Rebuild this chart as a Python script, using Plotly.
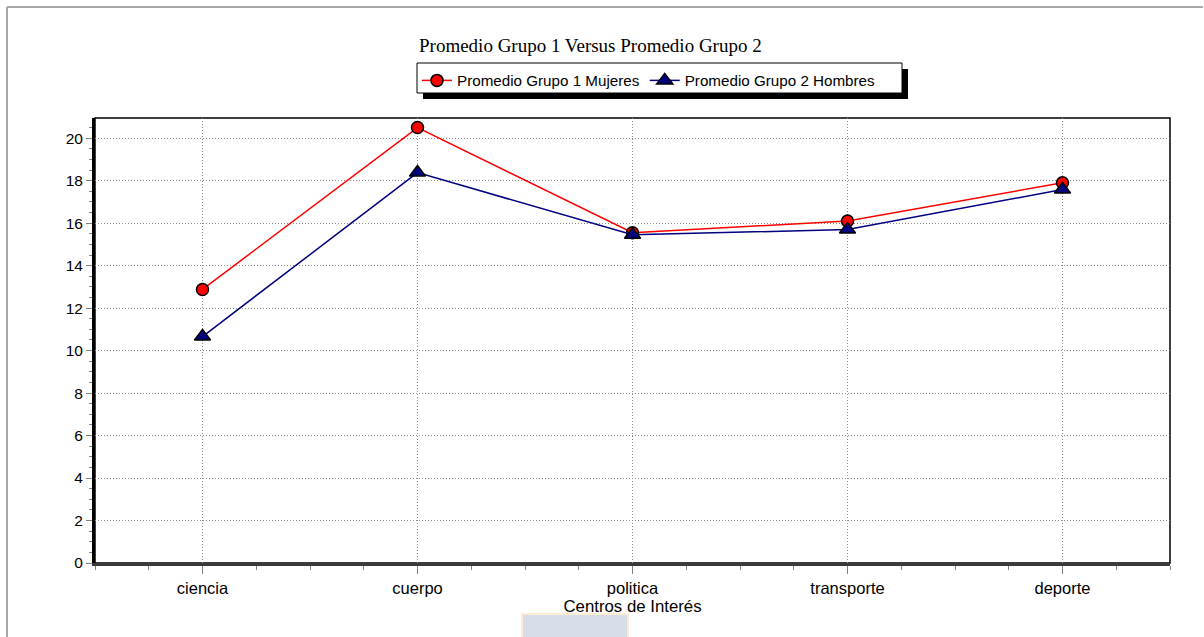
import plotly.graph_objects as go

# Centros de interés y promedios por grupo
categorias = ["ciencia", "cuerpo", "politica", "transporte", "deporte"]
grupo1_mujeres = [12.88, 20.5, 15.55, 16.1, 17.9]
grupo2_hombres = [10.66, 18.38, 15.45, 15.7, 17.58]
y_ticks = [0, 2, 4, 6, 8, 10, 12, 14, 16, 18, 20]

W, H = 1204, 637
ML, MR, MT, MB = 95, 34, 118, 74
PW, PH = W - ML - MR, H - MT - MB


def px_x(px):
    return (px - ML) / PW


def px_y(py):
    return (H - MB - py) / PH


xpos = list(range(len(categorias)))

fig = go.Figure()
fig.add_trace(go.Scatter(
    x=xpos, y=grupo1_mujeres, mode="lines+markers",
    name="Promedio Grupo 1 Mujeres",
    line=dict(color="#ff0000", width=1.5),
    marker=dict(symbol="circle", size=12, color="#ff0000",
                line=dict(color="#000000", width=1.5)),
))
fig.add_trace(go.Scatter(
    x=xpos, y=grupo2_hombres, mode="lines+markers",
    name="Promedio Grupo 2 Hombres",
    line=dict(color="#000080", width=1.5),
    marker=dict(symbol="triangle-up", size=14, color="#000080",
                line=dict(color="#000000", width=1.5)),
))

shapes = [
    # plot frame
    dict(type="rect", xref="paper", yref="paper", x0=0, x1=1, y0=0, y1=1,
         line=dict(color="#000000", width=1.5), layer="below"),
    # legend drop shadow and box
    dict(type="rect", xref="paper", yref="paper",
         x0=px_x(423), x1=px_x(908), y0=px_y(99), y1=px_y(69),
         fillcolor="#000000", line=dict(width=0), layer="above"),
    dict(type="rect", xref="paper", yref="paper",
         x0=px_x(417), x1=px_x(902), y0=px_y(93), y1=px_y(63),
         fillcolor="#ffffff", line=dict(color="#000000", width=1), layer="above"),
    # page frame (left and top edges)
    dict(type="line", xref="paper", yref="paper",
         x0=px_x(7), x1=px_x(7), y0=px_y(7), y1=px_y(640),
         line=dict(color="#a8a8a8", width=2)),
    dict(type="line", xref="paper", yref="paper",
         x0=px_x(7), x1=px_x(1203), y0=px_y(7), y1=px_y(7),
         line=dict(color="#a8a8a8", width=2)),
    # faint emblem below the axis title
    dict(type="rect", xref="paper", yref="paper",
         x0=px_x(522), x1=px_x(628), y0=px_y(640), y1=px_y(614),
         fillcolor="#d6dde8", line=dict(color="#fbecd2", width=2), layer="below"),
]

annotations = [
    dict(text="Promedio Grupo 1 Versus Promedio Grupo 2",
         xref="paper", yref="paper", x=px_x(590), y=px_y(45),
         xanchor="center", yanchor="middle", showarrow=False,
         font=dict(family="Liberation Serif, Times New Roman, serif", size=19, color="#000000")),
]

fig.update_layout(
    width=W, height=H,
    margin=dict(l=ML, r=MR, t=MT, b=MB),
    paper_bgcolor="#ffffff", plot_bgcolor="#ffffff",
    font=dict(family="Liberation Sans, Arial, sans-serif", size=16, color="#000000"),
    showlegend=True,
    legend=dict(
        orientation="h", x=px_x(417), y=px_y(64), xanchor="left", yanchor="top",
        bgcolor="rgba(0,0,0,0)", borderwidth=0,
        font=dict(size=15.2), itemwidth=30, tracegroupgap=0,
    ),
    shapes=shapes,
    annotations=annotations,
)

grid_dash = "1px,2px"

fig.update_xaxes(
    range=[-0.5, 4.5], tickvals=xpos, ticktext=categorias,
    showgrid=True, gridcolor="#8c8c8c", griddash=grid_dash, gridwidth=1.2,
    ticks="outside", ticklen=8, tickcolor="#808080", tickwidth=1,
    minor=dict(dtick=0.25, tick0=0, ticks="outside", ticklen=4, tickcolor="#808080", showgrid=False),
    showline=True, linecolor="#3a3a3a", linewidth=3,
    zeroline=False,
    title=dict(text="Centros de Interés", standoff=5, font=dict(size=16.8)),
    tickfont=dict(size=16.5),
)
fig.update_yaxes(
    range=[0, 20.95], tickvals=y_ticks,
    showgrid=True, gridcolor="#8c8c8c", griddash=grid_dash, gridwidth=1.2,
    ticks="outside", ticklen=6, tickcolor="#808080", tickwidth=1,
    minor=dict(dtick=0.5, tick0=0, ticks="outside", ticklen=3, tickcolor="#808080", showgrid=False),
    showline=True, linecolor="#000000", linewidth=3,
    zeroline=False,
    tickfont=dict(size=15.5),
)

fig.write_html("out.html")
